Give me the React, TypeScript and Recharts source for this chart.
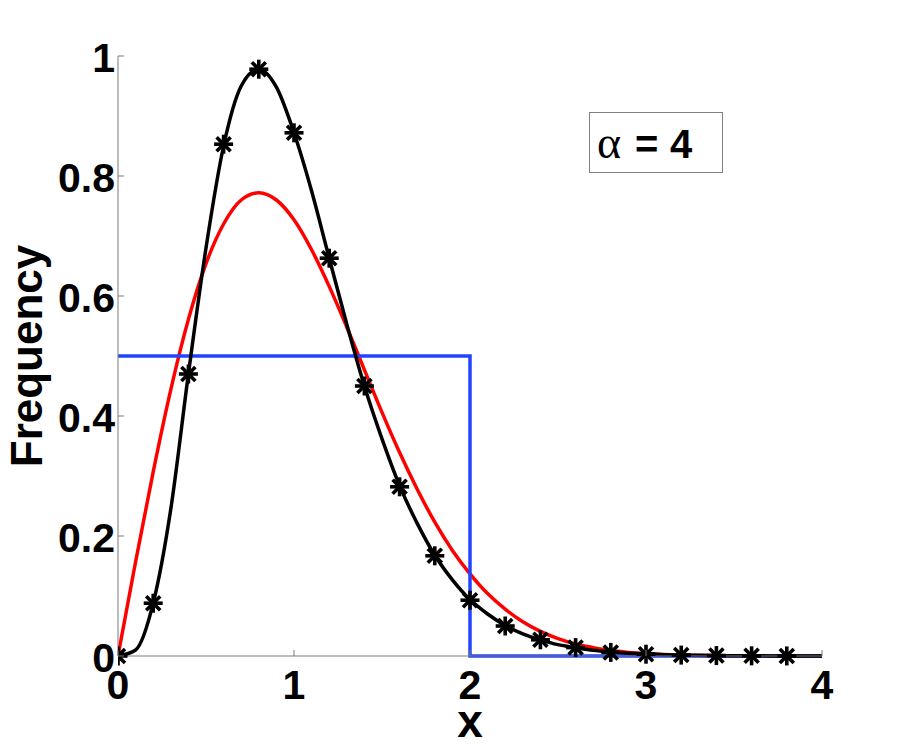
import React from "react";
import { LineChart, Line, XAxis, YAxis } from "recharts";

// x grid for the smooth curves
const xGrid = [
  0, 0.1, 0.2, 0.3, 0.4, 0.5, 0.6, 0.7, 0.8, 0.9, 1.0, 1.1, 1.2, 1.3, 1.4, 1.5, 1.6, 1.7, 1.8, 1.9,
  2.0, 2.1, 2.2, 2.3, 2.4, 2.5, 2.6, 2.7, 2.8, 2.9, 3.0, 3.1, 3.2, 3.3, 3.4, 3.5, 3.6, 3.7, 3.8, 3.9, 4.0,
];
// black smooth curve
const blackCurve = [
  0, 0.01, 0.088, 0.245, 0.47, 0.68, 0.85, 0.95, 0.978, 0.948, 0.872, 0.775, 0.663, 0.553, 0.45, 0.362,
  0.284, 0.221, 0.168, 0.127, 0.094, 0.07, 0.051, 0.037, 0.027, 0.019, 0.014, 0.0095, 0.0067, 0.0047,
  0.0032, 0.0022, 0.0015, 0.0011, 0.0007, 0.0005, 0.0003, 0.0002, 0.00015, 0.0001, 0.00007,
];
// red curve
const redCurve = [
  0, 0.157, 0.307, 0.444, 0.561, 0.654, 0.72, 0.76, 0.772, 0.76, 0.727, 0.677, 0.616, 0.548, 0.477, 0.406,
  0.339, 0.278, 0.223, 0.176, 0.137, 0.104, 0.078, 0.057, 0.041, 0.029, 0.02, 0.014, 0.009, 0.006, 0.004,
  0.0025, 0.0016, 0.001, 0.0006, 0.0004, 0.0002, 0.00015, 0.0001, 0.00005, 0.00003,
];
// star markers
const starX = [0, 0.2, 0.4, 0.6, 0.8, 1.0, 1.2, 1.4, 1.6, 1.8, 2.0, 2.2, 2.4, 2.6, 2.8, 3.0, 3.2, 3.4, 3.6, 3.8];
const starY = [
  0, 0.088, 0.47, 0.853, 0.978, 0.872, 0.663, 0.45, 0.282, 0.167, 0.093, 0.05, 0.027, 0.014, 0.006, 0.003,
  0.0015, 0.0007, 0.0003, 0.0001,
];
// blue uniform step
const blueX = [0, 2, 2, 4];
const blueY = [0.5, 0.5, 0, 0];

const xTicks = [0, 1, 2, 3, 4];
const yTicks = [0, 0.2, 0.4, 0.6, 0.8, 1];

const blackData = xGrid.map((x, i) => ({ x, y: blackCurve[i] }));
const redData = xGrid.map((x, i) => ({ x, y: redCurve[i] }));
const starData = starX.map((x, i) => ({ x, y: starY[i] }));
const blueData = blueX.map((x, i) => ({ x, y: blueY[i] }));

const FONT = "'Liberation Sans', Arial, Helvetica, sans-serif";
const AXIS = "#7a7a7a";

const XTick = (props: any) => {
  const { x, y, payload } = props;
  return (
    <g>
      <line x1={x} x2={x} y1={y} y2={y - 6} stroke={AXIS} strokeWidth={1} />
      <text x={x} y={y + 43} textAnchor="middle" fontFamily={FONT} fontWeight="bold" fontSize={41} fill="#000">
        {String(payload.value)}
      </text>
    </g>
  );
};

const YTick = (props: any) => {
  const { x, y, payload } = props;
  return (
    <g>
      <line x1={x} x2={x + 6} y1={y} y2={y} stroke={AXIS} strokeWidth={1} />
      <text x={x - 3} y={y + 16} textAnchor="end" fontFamily={FONT} fontWeight="bold" fontSize={41} fill="#000">
        {String(payload.value)}
      </text>
    </g>
  );
};

const StarDot = (props: any) => {
  const { cx, cy } = props;
  if (cx == null || cy == null) return <g />;
  const r = 9.5;
  const d = 7;
  return (
    <g stroke="#000" strokeWidth={3.6}>
      <line x1={cx - r} x2={cx + r} y1={cy} y2={cy} />
      <line x1={cx} x2={cx} y1={cy - r} y2={cy + r} />
      <line x1={cx - d} x2={cx + d} y1={cy - d} y2={cy + d} />
      <line x1={cx - d} x2={cx + d} y1={cy + d} y2={cy - d} />
    </g>
  );
};

export default function App() {
  return (
    <div style={{ position: "absolute", left: 0, top: 0, width: 907, height: 746, background: "#fff" }}>
      <LineChart width={907} height={746} margin={{ top: 56, right: 85, bottom: 0, left: 0 }}>
        <XAxis
          type="number"
          dataKey="x"
          domain={[0, 4]}
          ticks={xTicks}
          interval={0}
          height={90}
          tickSize={0}
          tickMargin={0}
          tickLine={false}
          axisLine={{ stroke: AXIS, strokeWidth: 1 }}
          tick={<XTick />}
          allowDataOverflow
        />
        <YAxis
          type="number"
          dataKey="y"
          domain={[0, 1]}
          ticks={yTicks}
          interval={0}
          width={118}
          tickSize={0}
          tickMargin={0}
          tickLine={false}
          axisLine={{ stroke: AXIS, strokeWidth: 1 }}
          tick={<YTick />}
        />
        <Line
          data={redData}
          dataKey="y"
          type="monotone"
          stroke="#ff0000"
          strokeWidth={3.5}
          dot={false}
          activeDot={false}
          isAnimationActive={false}
        />
        <Line
          data={blueData}
          dataKey="y"
          type="linear"
          stroke="#2244ff"
          strokeWidth={3.5}
          dot={false}
          activeDot={false}
          isAnimationActive={false}
        />
        <Line
          data={blackData}
          dataKey="y"
          type="monotone"
          stroke="#000"
          strokeWidth={3.5}
          dot={false}
          activeDot={false}
          isAnimationActive={false}
        />
        <Line
          data={starData}
          dataKey="y"
          type="linear"
          stroke="none"
          strokeWidth={0}
          dot={(p: any) => <StarDot key={`s-${p.index}`} {...p} />}
          activeDot={false}
          isAnimationActive={false}
        />
      </LineChart>
      <svg
        width={907}
        height={746}
        style={{ position: "absolute", left: 0, top: 0, pointerEvents: "none" }}
      >
        <text
          x={0}
          y={0}
          transform="translate(42 356) rotate(-90)"
          textAnchor="middle"
          fontFamily={FONT}
          fontWeight="bold"
          fontSize={44}
          fill="#000"
        >
          Frequency
        </text>
        <text x={470} y={737} textAnchor="middle" fontFamily={FONT} fontWeight="bold" fontSize={46} fill="#000">
          x
        </text>
        <rect x={589.5} y={112.5} width={133} height={60} fill="#fff" stroke="#808080" strokeWidth={1} />
        <text x={597} y={158} fontFamily="'Liberation Serif', 'Times New Roman', serif" fontSize={46} fill="#000">
          α
        </text>
        <text x={635} y={158} fontFamily={FONT} fontWeight="bold" fontSize={40} fill="#000">
          =
        </text>
        <text x={670} y={158} fontFamily={FONT} fontWeight="bold" fontSize={40} fill="#000">
          4
        </text>
      </svg>
    </div>
  );
}
